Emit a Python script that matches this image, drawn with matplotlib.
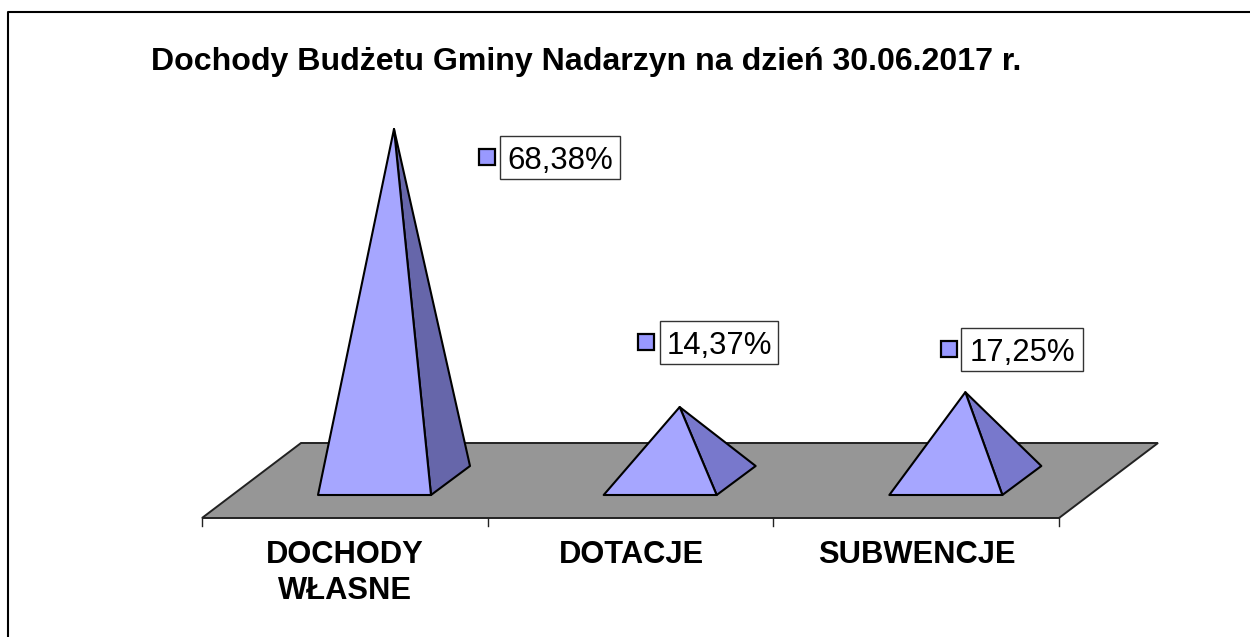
import matplotlib
matplotlib.use("Agg")
import matplotlib.pyplot as plt
from matplotlib.patches import Polygon, Rectangle

categories = ["DOCHODY\nWŁASNE", "DOTACJE", "SUBWENCJE"]
values = [68.38, 14.37, 17.25]
labels = ["68,38%", "14,37%", "17,25%"]
title = "Dochody Budżetu Gminy Nadarzyn na dzień 30.06.2017 r."

plt.rcParams['font.family'] = ['Liberation Sans', 'DejaVu Sans']

fig = plt.figure(figsize=(12.5, 6.37), dpi=100)
ax = fig.add_axes([0, 0, 1, 1])
ax.set_xlim(0, 1250)
ax.set_ylim(637, 0)
ax.axis('off')

# frame, only left and top reach the picture
ax.plot([8, 8, 1250], [637, 12, 12], color='black', lw=1.5)

ax.text(151, 62, title, fontsize=23.1, fontweight='bold', va='center', ha='left')

# floor
ax.add_patch(Polygon([(202, 518), (1059, 518), (1158, 443), (301, 443)], closed=True,
                     facecolor='#969696', edgecolor='#222222', lw=1.4))
for i in range(len(categories) + 1):
    x = 202 + i * 285.67
    ax.plot([x, x], [518, 526], color='#222222', lw=1)

# pyramids
scale = 5.148  # px per percent
side_cols = ['#6666AA', '#7878CC', '#7878CC']
lab_x = [560, 719, 1022]
lab_y = [158, 343, 350]
lab_w = [120, 118, 122]
for i, v in enumerate(values):
    left = 318 + i * 285.67
    right = left + 113
    back_x = right + 39
    apex_x = (left + right) / 2 + 19.5
    apex_y = 481 - v * scale
    ax.add_patch(Polygon([(right, 495), (back_x, 466), (apex_x, apex_y)], closed=True,
                         facecolor=side_cols[i], edgecolor='black', lw=1.5, joinstyle='round'))
    ax.add_patch(Polygon([(left, 495), (right, 495), (apex_x, apex_y)], closed=True,
                         facecolor='#A6A6FF', edgecolor='black', lw=1.5, joinstyle='round'))

    ax.add_patch(Rectangle((lab_x[i] - lab_w[i] / 2, lab_y[i] - 22), lab_w[i], 43, facecolor='white',
                           edgecolor='#333333', lw=1))
    ax.text(lab_x[i], lab_y[i] + 3, labels[i], fontsize=22.4, ha='center', va='center')
    ax.add_patch(Rectangle((lab_x[i] - 81, lab_y[i] - 9), 16, 16, facecolor='#9999FF',
                           edgecolor='black', lw=1.6))

cat_x = [345, 631, 917]
for x, c in zip(cat_x, categories):
    ax.text(x, 540, c, fontsize=22.2, fontweight='bold', ha='center', va='top', linespacing=1.26)

fig.savefig('out.png', dpi=100)
